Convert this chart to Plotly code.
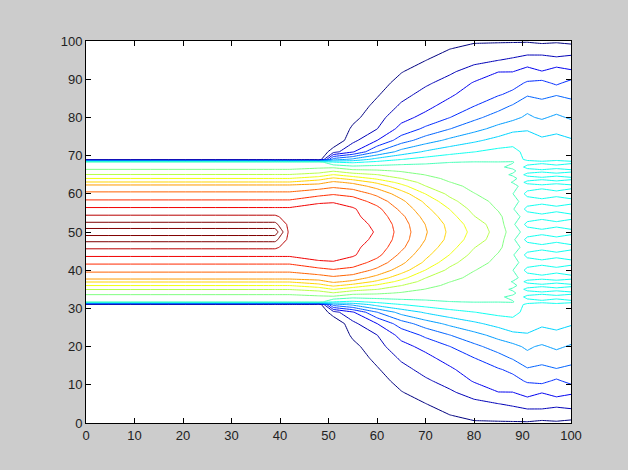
import plotly.graph_objects as go

# distance from the centre line y = 50 at which each table row is given (upper half; lower half mirrors it)
d_nodes = [0, 2, 4, 6, 8, 10, 12, 13, 14, 15, 16, 17, 18.3, 19, 21, 24, 27, 30, 33, 36, 39, 42, 45, 48, 50]

# x positions of the columns of the field
x_nodes = [0, 39, 42, 48, 51, 55, 60, 65, 70, 75, 80, 85, 88, 91, 94, 97, 100]

# field values, one column per x node (top half)
z_x0 = [20.6, 19.3, 18.2, 17.2, 16.2, 15.2, 14.4, 13.1, 12.02, 11.05, 10.2, 9.7, 9.4, 0, 0, 0, 0, 0, 0, 0, 0, 0, 0, 0, 0]
z_x39 = [20.6, 19.3, 18.2, 17.2, 16.2, 15.2, 14.4, 13.1, 12.02, 11.05, 10.2, 9.7, 9.4, 0, 0, 0, 0, 0, 0, 0, 0, 0, 0, 0, 0]
z_x42 = [17.7, 17.65, 17.5, 17.2, 16.2, 15.2, 14.4, 13.1, 12.02, 11.05, 10.2, 9.7, 9.4, 0, 0, 0, 0, 0, 0, 0, 0, 0, 0, 0, 0]
z_x48 = [17.8, 17.75, 17.6, 17.4, 16.85, 15.65, 14.55, 13.6, 12.6, 11.4, 10.5, 9.8, 9.4, 0, 0, 0, 0, 0, 0, 0, 0, 0, 0, 0, 0]
z_x51 = [17.85, 17.8, 17.7, 17.5, 16.9, 15.9, 14.8, 14.2, 13.2, 12.02, 10.9, 9.8, 7.98, 5.5, 1.6, 0, 0, 0, 0, 0, 0, 0, 0, 0, 0]
z_x55 = [17.3, 17.28, 17.2, 17.12, 16.57, 15.65, 14.53, 13.78, 12.63, 11.44, 10.33, 9.3, 7.8, 6.25, 2.88, 1.73, 1.18, 0.7, 0.45, 0.3, 0.2, 0.1, 0.05, 0, 0]
z_x60 = [16.95, 16.85, 16.6, 16.3, 15.6, 14.75, 13.62, 12.8, 11.83, 11.02, 10.17, 9.38, 8.2, 7.38, 4.98, 2.98, 1.98, 1.63, 1.25, 0.9, 0.6, 0.4, 0.25, 0.1, 0.05]
z_x65 = [15.6, 15.5, 15.25, 14.75, 14.25, 13.5, 12.33, 11.67, 11.02, 10.44, 9.9, 9.4, 8.58, 7.98, 6.38, 4.5, 3.33, 2.66, 2.14, 1.71, 1.32, 0.95, 0.7, 0.5, 0.4]
z_x70 = [14.1, 13.98, 13.64, 13.27, 12.8, 11.98, 11.02, 10.66, 10.31, 9.97, 9.65, 9.32, 8.81, 8.38, 7.13, 5.5, 4.2, 3.29, 2.71, 2.29, 1.86, 1.43, 0.98, 0.7, 0.5]
z_x75 = [12.8, 12.7, 12.4, 11.98, 11.33, 10.75, 10.25, 10.02, 9.81, 9.62, 9.43, 9.25, 8.98, 8.65, 7.65, 6.23, 4.98, 3.98, 3.4, 2.83, 2.33, 1.86, 1.43, 0.98, 0.8]
z_x80 = [11.7, 11.5, 11.05, 10.68, 10.35, 10.03, 9.78, 9.66, 9.54, 9.42, 9.3, 9.18, 9.02, 8.8, 7.98, 6.8, 5.67, 4.75, 3.98, 3.54, 3.08, 2.38, 1.74, 1.22, 0.9]
z_x85 = [10.6, 10.5, 10.2, 9.93, 9.78, 9.63, 9.48, 9.41, 9.33, 9.26, 9.19, 9.11, 9.01, 8.86, 8.29, 7.33, 6.33, 5.43, 4.63, 3.92, 3.46, 2.98, 1.98, 1.33, 0.9]
z_x88 = [9.5, 9.2, 9.45, 9.1, 9.35, 9.02, 9.3, 8.95, 9.2, 8.9, 9.15, 8.85, 9.05, 8.75, 8.4, 7.5, 6.8, 5.7, 5.1, 4.2, 3.7, 2.98, 2.15, 1.4, 0.9]
z_x91 = [8.55, 7.7, 8.55, 7.7, 8.5, 7.7, 8.5, 7.7, 8.5, 7.7, 8.45, 7.7, 8.45, 7.7, 7.6, 7.5, 6.9, 6.2, 5.6, 4.9, 4.1, 3.4, 2.4, 1.5, 0.9]
z_x94 = [8.3, 7.45, 8.3, 7.45, 8.3, 7.45, 8.3, 7.45, 8.25, 7.45, 8.25, 7.45, 8.25, 7.45, 7.8, 7.02, 6.95, 5.8, 5.7, 4.5, 4.3, 3.02, 2.55, 1.3, 0.85]
z_x97 = [8.55, 7.7, 8.55, 7.7, 8.5, 7.7, 8.5, 7.7, 8.5, 7.7, 8.45, 7.7, 8.45, 7.7, 7.5, 7.5, 6.6, 6.3, 5.2, 4.98, 3.8, 3.5, 2.2, 1.5, 0.85]
z_x100 = [8.3, 7.45, 8.3, 7.45, 8.3, 7.45, 8.3, 7.45, 8.25, 7.45, 8.25, 7.45, 8.25, 7.45, 7.85, 7.02, 6.9, 5.8, 5.75, 4.5, 4.35, 3.1, 2.5, 1.3, 0.8]

columns = [z_x0, z_x39, z_x42, z_x48, z_x51, z_x55, z_x60, z_x65, z_x70, z_x75,
           z_x80, z_x85, z_x88, z_x91, z_x94, z_x97, z_x100]

tick_vals = [0, 10, 20, 30, 40, 50, 60, 70, 80, 90, 100]

# assemble the full grid: lower half is the mirror of the upper half
y_nodes = [50 - d for d in reversed(d_nodes[1:])] + [50 + d for d in d_nodes]
z_rows = []
for i in range(len(y_nodes)):
    if i < len(d_nodes) - 1:
        k = len(d_nodes) - 1 - i
    else:
        k = i - (len(d_nodes) - 1)
    z_rows.append([col[k] for col in columns])

jet = [[0.0, "rgb(0,0,128)"], [0.125, "rgb(0,0,255)"], [0.375, "rgb(0,255,255)"],
       [0.625, "rgb(255,255,0)"], [0.875, "rgb(255,0,0)"], [1.0, "rgb(128,0,0)"]]

fig = go.Figure(go.Contour(
    x=x_nodes, y=y_nodes, z=z_rows,
    contours=dict(start=1, end=20, size=1, coloring="lines"),
    colorscale=jet, zmin=0, zmax=19.5, zauto=False,
    line=dict(width=1, smoothing=0),
    showscale=False, hoverinfo="skip",
))

axis_common = dict(
    range=[0, 100], tickvals=tick_vals, ticks="inside", ticklen=5,
    tickcolor="black", showline=True, linecolor="black", linewidth=1,
    mirror="ticks", showgrid=False, zeroline=False,
    tickfont=dict(family="Liberation Sans, Arial, sans-serif", size=13, color="#222"),
)
fig.update_xaxes(**axis_common)
fig.update_yaxes(**axis_common)

fig.update_layout(
    width=628, height=470,
    margin=dict(l=86, r=57, t=41, b=47),
    paper_bgcolor="#cccccc", plot_bgcolor="white",
    showlegend=False,
)

fig.write_html("out.html")
